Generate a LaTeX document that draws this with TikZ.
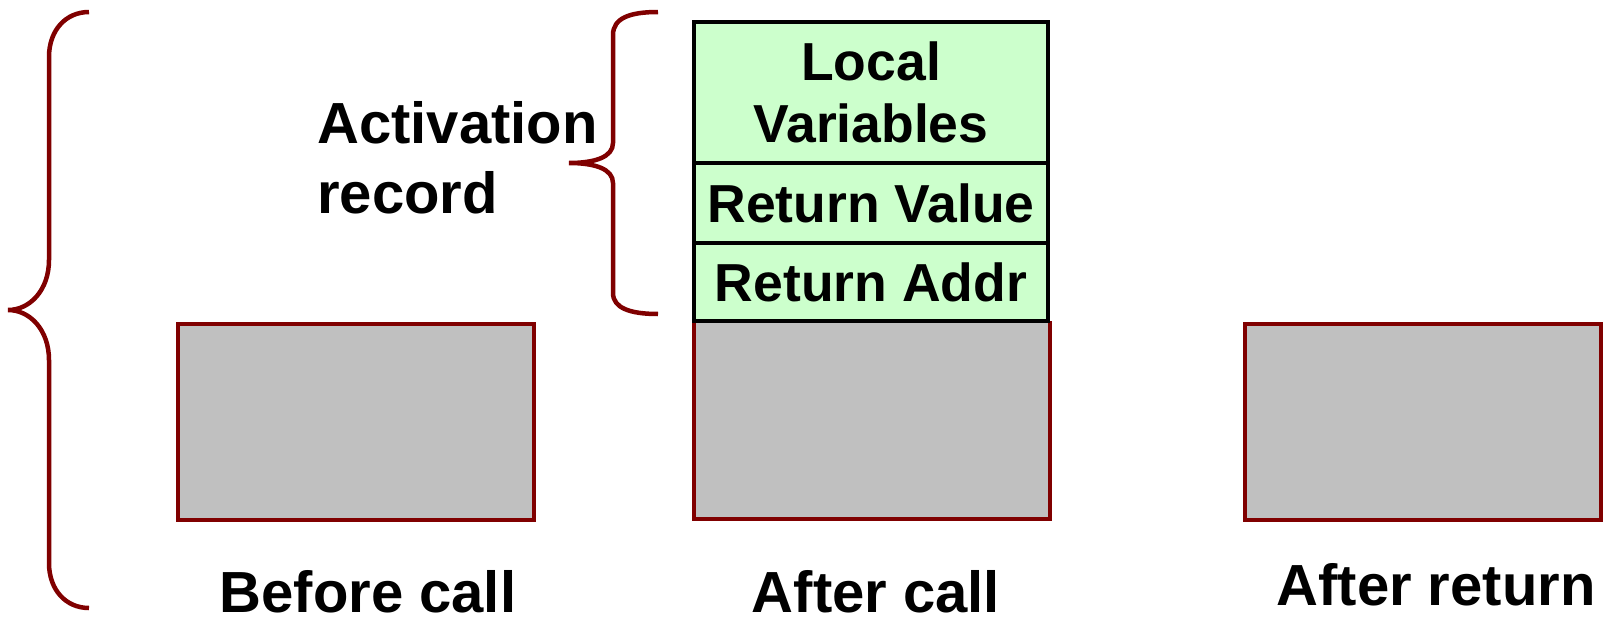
\documentclass[tikz,border=0pt]{standalone}
\usepackage{fontspec}
\setmainfont{Liberation Sans}
\definecolor{frame}{HTML}{800000}
\definecolor{stackgray}{HTML}{C0C0C0}
\definecolor{recgreen}{HTML}{CCFFCC}
\begin{document}
\begin{tikzpicture}[x=1pt,y=-1pt,
  graybox/.style={draw=frame,line width=4pt,fill=stackgray,minimum width=356pt,minimum height=196pt,inner sep=0pt},
  cell/.style={draw=black,line width=3.5pt,fill=recgreen,minimum width=354pt,inner sep=0pt,align=center,
    font=\fontsize{53.5}{62}\selectfont\bfseries},
  biglabel/.style={inner sep=0pt,text depth=0pt,font=\fontsize{58}{67}\selectfont\bfseries},
  brace/.style={draw=frame,line width=4.5pt}]
\useasboundingbox (0,0) rectangle (1607,621);

% stack before the call
\node[graybox] (before) at (356,422) {};
% stack after the call: caller's part, red on three sides
\fill[stackgray] (694,321) rectangle (1050,519);
\draw[frame,line width=4pt] (694,321) -- (694,519) -- (1050,519) -- (1050,321);
% activation record cells
\node[cell,minimum height=141pt] (locals) at (871,92.5) {Local\\Variables};
\node[cell,minimum height=80pt] (retval) at (871,203) {Return Value};
\node[cell,minimum height=78pt] (retaddr) at (871,282) {Return Addr};
% stack after the return
\node[graybox] (afterret) at (1423,422) {};

% captions
\node[biglabel,anchor=base] (lbefore) at (368,612) {Before call};
\node[biglabel,anchor=base] (lcall) at (876,612) {After call};
\node[biglabel,anchor=base] (lreturn) at (1436,605) {After return};
\node[biglabel,anchor=base west] (act1) at (317,143) {Activation};
\node[biglabel,anchor=base west] (act2) at (317,213) {record};

% large brace on the left
\draw[brace] (89,12) .. controls (66,12) and (49,30) .. (49,57) -- (49,260)
  .. controls (49,290) and (30,310) .. (8,310)
  .. controls (30,310) and (49,330) .. (49,360) -- (49,563)
  .. controls (49,590) and (66,608) .. (89,608);
% brace spanning the activation record
\draw[brace] (658,12) .. controls (630,12) and (613,18) .. (613,35) -- (613,143)
  .. controls (613,157) and (595,163) .. (569,163)
  .. controls (595,163) and (613,169) .. (613,183) -- (613,293)
  .. controls (613,308) and (630,314) .. (658,314);
\end{tikzpicture}
\end{document}
